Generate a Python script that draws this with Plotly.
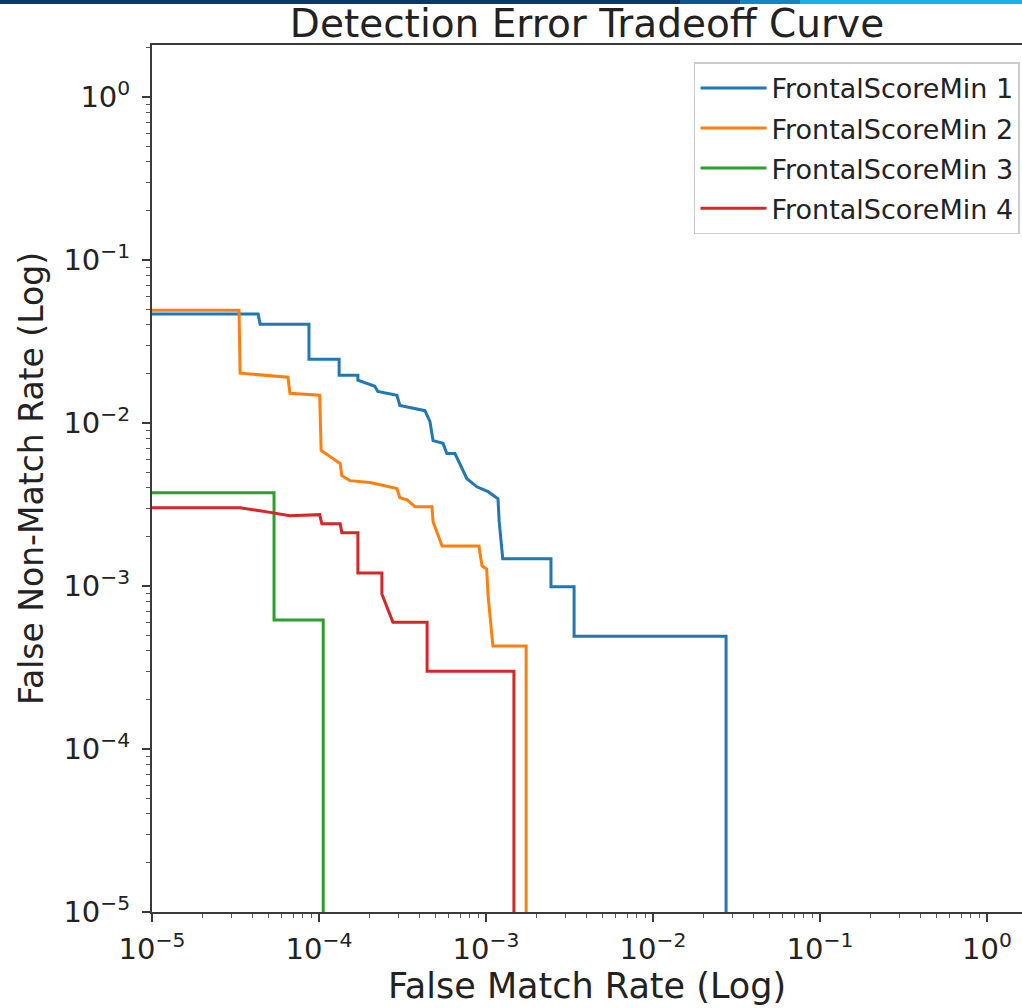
import plotly.graph_objects as go

# ---------------- data ----------------
series_names = ["FrontalScoreMin 1", "FrontalScoreMin 2", "FrontalScoreMin 3", "FrontalScoreMin 4"]
series_colors = ["#1f77b4", "#ff7f0e", "#2ca02c", "#d62728"]

# FMR / FNMR vertices of each DET curve (last FNMR value is ~0, below the axis)
fmr_1 = [1e-5, 4.32e-5, 4.44e-5, 8.71e-5, 8.71e-5, 1.32e-4, 1.32e-4, 1.71e-4, 1.71e-4,
         2.16e-4, 2.25e-4, 2.93e-4, 3.05e-4, 4.31e-4, 4.62e-4, 4.82e-4, 5.53e-4, 5.83e-4,
         6.52e-4, 7.18e-4, 7.69e-4, 8.83e-4, 1.03e-3, 1.18e-3, 1.20e-3, 1.26e-3, 2.45e-3,
         2.45e-3, 3.37e-3, 3.37e-3, 2.74e-2, 2.74e-2]
fnmr_1 = [0.0466, 0.0466, 0.0404, 0.0404, 0.0246, 0.0246, 0.0196, 0.0196, 0.0183,
          0.0168, 0.0156, 0.0148, 0.0128, 0.0119, 0.0102, 0.0078, 0.0075, 0.0065,
          0.0065, 0.0052, 0.00455, 0.00406, 0.00379, 0.00343, 0.00248, 0.00147, 0.00147,
          0.00099, 0.00099, 0.000492, 0.000492, 1e-7]

fmr_2 = [1e-5, 3.32e-5, 3.37e-5, 6.52e-5, 6.70e-5, 1.01e-4, 1.03e-4, 1.34e-4, 1.37e-4,
         1.53e-4, 2.02e-4, 2.93e-4, 3.05e-4, 3.37e-4, 3.76e-4, 4.75e-4, 4.82e-4, 5.46e-4,
         9.08e-4, 9.46e-4, 1.01e-3, 1.03e-3, 1.10e-3, 1.74e-3, 1.74e-3]
fnmr_2 = [0.0492, 0.0492, 0.0202, 0.0191, 0.0152, 0.0148, 0.00678, 0.00564, 0.00475,
          0.00443, 0.00431, 0.00396, 0.00348, 0.00338, 0.00306, 0.00306, 0.00248, 0.00176,
          0.00176, 0.00133, 0.00127, 0.000867, 0.000428, 0.000428, 1e-7]

fmr_3 = [1e-5, 5.38e-5, 5.38e-5, 1.06e-4, 1.06e-4]
fnmr_3 = [0.00373, 0.00373, 0.000618, 0.000618, 1e-7]

fmr_4 = [1e-5, 3.37e-5, 4.89e-5, 6.70e-5, 1.01e-4, 1.04e-4, 1.34e-4, 1.37e-4, 1.71e-4,
         1.71e-4, 2.38e-4, 2.38e-4, 2.77e-4, 4.44e-4, 4.44e-4, 1.47e-3, 1.47e-3]
fnmr_4 = [0.00302, 0.00302, 0.00285, 0.00270, 0.00274, 0.00241, 0.00241, 0.00212, 0.00212,
          0.00120, 0.00120, 0.000893, 0.000600, 0.000600, 0.000300, 0.000300, 1e-7]

major_exps = [-5, -4, -3, -2, -1, 0]
major_labels = ["10<sup>\u22125</sup>", "10<sup>\u22124</sup>", "10<sup>\u22123</sup>",
                "10<sup>\u22122</sup>", "10<sup>\u22121</sup>", "10<sup>0</sup>"]

# ---------------- figure ----------------
W, H = 1022, 1008
L, R, T, B = 152, 0, 45, 96
font_family = "DejaVu Sans"

fig = go.Figure()
all_fmr = [fmr_1, fmr_2, fmr_3, fmr_4]
all_fnmr = [fnmr_1, fnmr_2, fnmr_3, fnmr_4]
for i, name in enumerate(series_names):
    fig.add_trace(go.Scatter(
        x=all_fmr[i], y=all_fnmr[i], mode="lines", name=name,
        legendgroup=name,
        line=dict(color=series_colors[i], width=3),
        cliponaxis=True,
    ))

major_vals = [10.0 ** e for e in major_exps]
minor_vals = [m * 10.0 ** e for e in range(-5, 1) for m in range(2, 10)]

axis_common = dict(
    type="log",
    showgrid=False,
    zeroline=False,
    showline=True,
    linecolor="#3a3a3a",
    linewidth=2,
    ticks="outside",
    ticklen=8,
    tickwidth=1.5,
    tickcolor="#3a3a3a",
    tickmode="array",
    tickvals=major_vals,
    ticktext=major_labels,
    tickfont=dict(family=font_family, size=29, color="#222"),
    minor=dict(ticks="outside", ticklen=4, tickwidth=1, tickcolor="#555",
               tickmode="array", tickvals=minor_vals, showgrid=False),
)

fig.update_xaxes(**axis_common, range=[-5, 0.21], mirror=True,
                 title=dict(text="False Match Rate (Log)",
                            font=dict(family=font_family, size=35, color="#222"),
                            standoff=9),
                 ticklabelstandoff=2)
fig.update_yaxes(**axis_common, range=[-5, 0.319], mirror=False,
                 title=dict(text="False Non-Match Rate (Log)",
                            font=dict(family=font_family, size=33, color="#222"),
                            standoff=10),
                 ticklabelstandoff=6)

plot_w = W - L - R
plot_h = H - T - B

# top banner strip (screenshot decoration)
def px_to_paper_x(px):
    return (px - L) / plot_w

def py_to_paper_y(py):
    return 1 + (T - py) / plot_h

banner = [(0, 680, "#06386a"), (680, 740, "#0b5590"), (740, 800, "#1286c4"), (800, W, "#19b2e6")]
shapes = []
for x0, x1, c in banner:
    shapes.append(dict(type="rect", xref="paper", yref="paper",
                       x0=px_to_paper_x(x0), x1=px_to_paper_x(x1),
                       y0=py_to_paper_y(4), y1=py_to_paper_y(0),
                       fillcolor=c, line=dict(width=0), layer="above"))

fig.update_layout(
    width=W, height=H,
    margin=dict(l=L, r=R, t=T, b=B, autoexpand=False),
    paper_bgcolor="white", plot_bgcolor="white",
    font=dict(family=font_family, color="#222"),
    title=dict(text="Detection Error Tradeoff Curve", x=0.5, xref="paper",
               xanchor="center", y=1 - 23 / H, yref="container", yanchor="middle",
               font=dict(family=font_family, size=39, color="#222")),
    legend=dict(x=0.9977, y=0.980, xanchor="right", yanchor="top",
                bgcolor="rgba(255,255,255,0.85)", bordercolor="#cccccc", borderwidth=1.5,
                font=dict(family=font_family, size=27, color="#222"),
                tracegroupgap=2, traceorder="grouped", itemwidth=66),
    shapes=shapes,
    showlegend=True,
)

fig.write_html("out.html")
